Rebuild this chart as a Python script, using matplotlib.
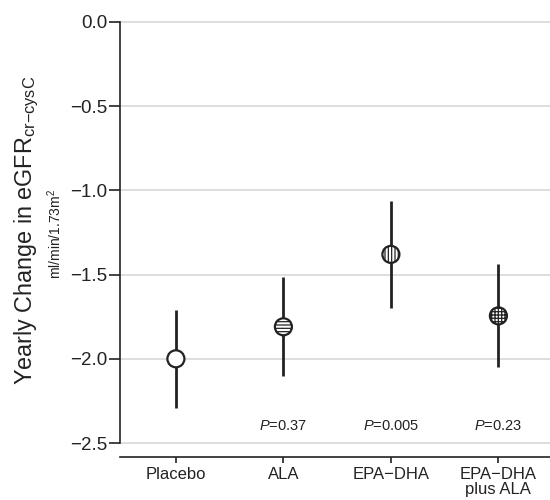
import matplotlib
matplotlib.use("Agg")
import matplotlib.pyplot as plt

plt.rcParams['font.family'] = ['Liberation Sans', 'DejaVu Sans']
plt.rcParams['mathtext.fontset'] = 'custom'
plt.rcParams['mathtext.rm'] = 'Liberation Sans'
plt.rcParams['mathtext.it'] = 'Liberation Sans:italic'
plt.rcParams['hatch.linewidth'] = 0.9

categories = ["Placebo", "ALA", "EPA\u2212DHA", "EPA\u2212DHA\nplus ALA"]
means = [-2.00, -1.81, -1.38, -1.745]
upper = [-1.71, -1.515, -1.065, -1.435]
lower = [-2.29, -2.10, -1.70, -2.05]
hatches = ["", "-----", "|||||", "+++++"]
pvalues = ["", "0.37", "0.005", "0.23"]
yticks = [0.0, -0.5, -1.0, -1.5, -2.0, -2.5]

fig = plt.figure(figsize=(5.5, 5.0), dpi=100)
ax = fig.add_axes([120/550, 1-443/500, 1-120/550, (443-22)/500])

x = list(range(len(categories)))
ax.set_xlim(-0.52, 3.48)
ax.set_ylim(-2.5, 0.0)

for yv in yticks:
    ax.axhline(yv, color='#dedede', lw=1.4, zorder=0, clip_on=False)

for i in x:
    ax.plot([i, i], [lower[i], upper[i]], color='#222222', lw=2.0, zorder=2,
            solid_capstyle='butt')
    ax.scatter([i], [means[i]], s=150, facecolor='white', edgecolor='#222222',
               linewidths=1.6, hatch=hatches[i], zorder=3, clip_on=False)
    if pvalues[i]:
        ax.text(i, -2.40, r"$\it{P}$=" + pvalues[i], ha='center', va='center',
                fontsize=10.5, color='#222222')

for s in ['top', 'right']:
    ax.spines[s].set_visible(False)
ax.spines['left'].set_bounds(-2.5, 0.0)
ax.spines['bottom'].set_position(('outward', 10))
ax.spines['left'].set_color('#222222')
ax.spines['bottom'].set_color('#222222')
ax.spines['left'].set_linewidth(1.2)
ax.spines['bottom'].set_linewidth(1.2)

ax.set_yticks(yticks)
ax.set_yticklabels([f"{v:.1f}".replace('-', '\u2212') for v in yticks], fontsize=13.5)
ax.set_xticks(x)
ax.set_xticklabels(categories, fontsize=12, linespacing=1.05)
ax.tick_params(axis='both', colors='#222222', width=1.2)
ax.tick_params(axis='y', length=8, pad=1)
ax.tick_params(axis='x', length=4, pad=3)

fig.text(27/550, 1-230/500, r"Yearly Change in eGFR$_{\mathrm{cr{-}cysC}}$",
         rotation=90, ha='center', va='center', fontsize=16.8, color='#222222')
fig.text(55/550, 1-234/500, r"ml/min/1.73m$^{2}$", rotation=90, ha='center',
         va='center', fontsize=10, color='#222222')

fig.savefig("out.png", dpi=100)
